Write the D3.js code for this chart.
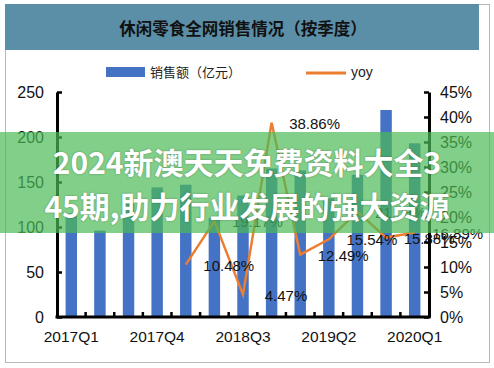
<!DOCTYPE html>
<html>
<head>
<meta charset="utf-8">
<title>休闲零食全网销售情况</title>
<script src="https://cdn.jsdelivr.net/npm/d3@7/dist/d3.min.js"></script>
<style>
body { margin:0; padding:0; background:#fff; }
svg { display:block; font-family: "Liberation Sans", Arial, sans-serif; }
.cjk { font-family: "Noto Sans CJK SC", sans-serif; }
</style>
</head>
<body>
<svg id="chart"></svg>
<script>
// quarters on the x axis
var quarters = ["2017Q1","2017Q2","2017Q3","2017Q4","2018Q1","2018Q2","2018Q3",
	"2018Q4","2019Q1","2019Q2","2019Q3","2019Q4","2020Q1"];
// sales, 亿元
var sales = [115, 96, 126, 144, 147, 110, 135, 165, 163, 132, 158, 230, 193];
// yoy growth in %, starts in 2018Q1
var yoyQuarters = ["2018Q1","2018Q2","2018Q3","2018Q4","2019Q1","2019Q2","2019Q3","2019Q4","2020Q1"];
var yoy = [10.48, 19.17, 4.47, 38.86, 12.49, 15.54, 21.08, 15.88, 16.89];
var labelQuarters = ["2017Q1","2017Q4","2018Q3","2019Q2","2020Q1"];
var leftTicks = [0, 50, 100, 150, 200, 250];
var rightTicks = [0, 5, 10, 15, 20, 25, 30, 35, 40, 45];

var w = 494, h = 368;
// plot box (note: "top" is taken by window.top, so use other names)
var plotL = 57, plotR = 429, plotT = 92, plotB = 317;

var svg = d3.select("#chart").attr("width", w).attr("height", h);

// frame + title bar
svg.append("rect").attr("x", 5.5).attr("y", 4.5).attr("width", 484).attr("height", 358)
	.attr("fill", "#fff").attr("stroke", "#b8b8b8");
svg.append("rect").attr("x", 5).attr("y", 4).attr("width", 474).attr("height", 46)
	.attr("fill", "#5b8fa7");
svg.append("text").attr("class", "cjk")
	.attr("x", 243).attr("y", 35).attr("text-anchor", "middle")
	.style("font-size", "16.5px").style("font-weight", "bold").attr("fill", "#111")
	.text("休闲零食全网销售情况（按季度）");

// scales
var x = d3.scaleBand().domain(quarters).range([plotL, plotR]).paddingInner(0.6).paddingOuter(0.3);
var y = d3.scaleLinear().domain([0, 250]).range([plotB, plotT]);
var y2 = d3.scaleLinear().domain([0, 45]).range([plotB, plotT]);

// bars
svg.append("g").selectAll("rect").data(sales).enter().append("rect")
	.attr("x", function(d, i) { return x(quarters[i]); })
	.attr("y", function(d) { return y(d); })
	.attr("width", x.bandwidth())
	.attr("height", function(d) { return plotB - y(d); })
	.attr("fill", "#4472c4");

// yoy line
var line = d3.line()
	.x(function(d, i) { return x(yoyQuarters[i]) + x.bandwidth() / 2; })
	.y(function(d) { return y2(d); });
svg.append("path").datum(yoy).attr("d", line)
	.attr("fill", "none").attr("stroke", "#ed7d31").attr("stroke-width", 2.5);

// data labels, shifted right of each point like in the source
svg.append("g").selectAll("text").data(yoy).enter().append("text")
	.attr("x", function(d, i) { return x(yoyQuarters[i]) + x.bandwidth() / 2 + 43; })
	.attr("y", function(d) { return y2(d) + 6; })
	.attr("text-anchor", "middle")
	.style("font-size", "15px").attr("fill", "#111")
	.text(function(d) { return d.toFixed(2) + "%"; });

// left axis (ticks inward)
var gl = svg.append("g").attr("transform", "translate(" + plotL + ",0)")
	.call(d3.axisLeft(y).tickValues(leftTicks).tickSize(-5).tickSizeOuter(0).tickPadding(13));
// right axis
var gr = svg.append("g").attr("transform", "translate(" + plotR + ",0)")
	.call(d3.axisRight(y2).tickValues(rightTicks).tickSize(-5).tickSizeOuter(0).tickPadding(11)
		.tickFormat(function(d) { return d + "%"; }));
// bottom axis, labels every third quarter
var gb = svg.append("g").attr("transform", "translate(0," + plotB + ")")
	.call(d3.axisBottom(x).tickValues(labelQuarters).tickSize(0).tickPadding(14));
gb.selectAll(".tick line").remove();
// small ticks between the bars
var half = (x.step() - x.bandwidth()) / 2;
gb.append("g").selectAll("line").data(quarters.slice(1)).enter().append("line")
	.attr("x1", function(d) { return x(d) - half; })
	.attr("x2", function(d) { return x(d) - half; })
	.attr("y1", 0).attr("y2", -5)
	.attr("stroke", "#000").attr("stroke-width", 2.5);

[gl, gr, gb].forEach(function(g) {
	g.select(".domain").attr("stroke", "#000").attr("stroke-width", 3);
	g.selectAll(".tick line").attr("stroke", "#000").attr("stroke-width", 2.5);
	g.selectAll("text").style("font-size", "16px").attr("fill", "#111")
		.style("font-family", "'Liberation Sans', Arial, sans-serif");
});
gb.selectAll(".tick text").style("font-size", "15.5px");
gb.select(".domain").attr("d", "M" + (plotL - 1.5) + ",0H" + (plotR + 1.5));

// legend
svg.append("rect").attr("x", 106).attr("y", 67).attr("width", 39).attr("height", 10).attr("fill", "#4472c4");
svg.append("text").attr("class", "cjk").attr("x", 150).attr("y", 77)
	.style("font-size", "13px").attr("fill", "#222").text("销售额（亿元）");
svg.append("line").attr("x1", 306).attr("x2", 346).attr("y1", 73).attr("y2", 73)
	.attr("stroke", "#ed7d31").attr("stroke-width", 3);
svg.append("text").attr("x", 351).attr("y", 77)
	.style("font-size", "14px").attr("fill", "#222").text("yoy");

// green banner laid over the chart
svg.append("rect").attr("x", 0).attr("y", 132).attr("width", w).attr("height", 101)
	.attr("fill", "rgb(76,186,85)").attr("opacity", 0.7);
var banner = ["2024新澳天天免费资料大全3", "45期,助力行业发展的强大资源"];
svg.append("g").selectAll("text").data(banner).enter().append("text")
	.attr("class", "cjk")
	.attr("x", 247).attr("y", function(d, i) { return 174 + i * 44; })
	.attr("text-anchor", "middle")
	.style("font-size", "30px").style("font-weight", "bold")
	.attr("fill", "#fff")
	.style("text-shadow", "0 0 2px rgba(0,0,0,0.35)")
	.text(function(d) { return d; });
</script>
</body>
</html>
